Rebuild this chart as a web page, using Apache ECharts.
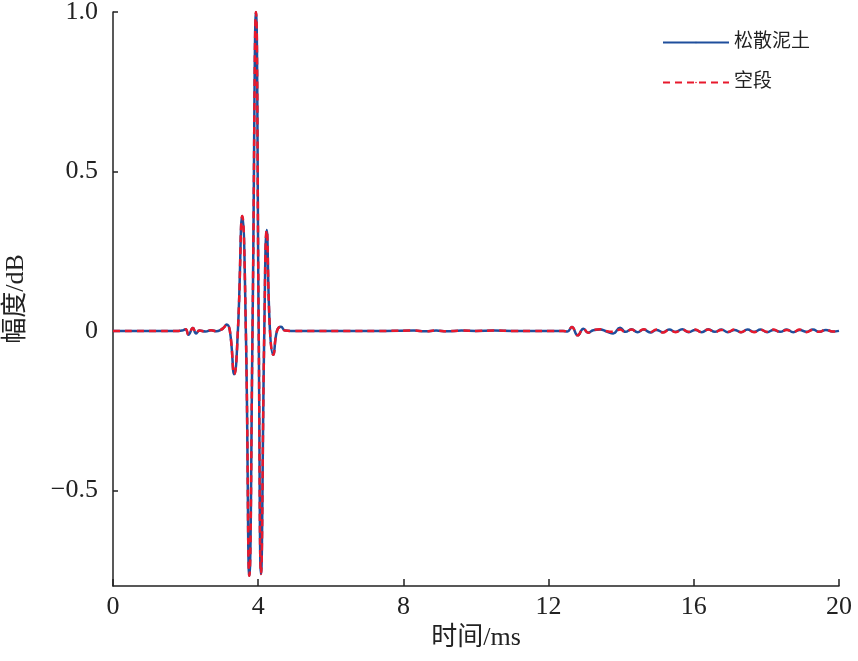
<!DOCTYPE html>
<html>
<head>
<meta charset="utf-8">
<script src="https://cdn.jsdelivr.net/npm/echarts@6/dist/echarts.min.js"></script>
<style>
html,body{margin:0;padding:0;background:#fff;}
#chart{width:858px;height:661px;}
</style>
</head>
<body>
<div id="chart"></div>
<script>
// time axis (ms)
var timeMs = [0, 1.0, 1.8, 1.9, 2.00, 2.08, 2.20, 2.29, 2.38, 2.55, 2.70, 2.85, 2.98, 3.05, 3.13, 3.22, 3.34, 3.44, 3.56, 3.66, 3.755, 3.843, 3.939, 4.014, 4.077, 4.168, 4.234, 4.325, 4.416, 4.518, 4.628, 4.74, 4.9, 5.5, 6.5, 7.5, 8.3, 8.6, 8.9, 9.2, 9.6, 10.0, 10.5, 11.0, 11.5, 12.0, 12.4, 12.52, 12.64, 12.80, 12.96, 13.09, 13.23, 13.42, 13.60, 13.78, 13.97, 14.12, 14.28, 14.45, 14.62, 14.80, 14.97, 15.15, 15.32, 15.50, 15.68, 15.86, 16.04, 16.22, 16.40, 16.58, 16.76, 16.94, 17.12, 17.30, 17.48, 17.66, 17.84, 18.02, 18.20, 18.38, 18.56, 18.74, 18.92, 19.10, 19.28, 19.46, 19.64, 19.82, 20.0];

// 松散泥土 (loose soil)
var looseSoil = [0, 0, 0, 0.001, 0.005, -0.012, 0.009, -0.008, 0.001, -0.002, 0.002, -0.001, 0.004, 0.010, 0.020, 0, -0.136, 0, 0.360, 0, -0.768, 0, 1.000, 0, -0.762, 0, 0.316, 0, -0.075, 0, 0.013, 0.001, 0, 0, 0, 0, 0.001, -0.001, 0.001, -0.001, 0.001, 0, 0.001, 0, 0, 0, 0, -0.002, 0.012, -0.014, 0.007, -0.006, 0.002, 0.004, -0.002, -0.008, 0.010, -0.003, 0.005, -0.004, 0.004, -0.005, 0.003, -0.004, 0.004, -0.003, 0.005, -0.004, 0.003, -0.004, 0.005, -0.003, 0.004, -0.004, 0.003, -0.004, 0.004, -0.003, 0.004, -0.004, 0.003, -0.003, 0.004, -0.004, 0.003, -0.003, 0.004, -0.003, 0.003, -0.002, 0];

// 空段 (empty section)
var emptySection = [0, 0, 0, 0.001, 0.005, -0.012, 0.009, -0.008, 0.001, -0.002, 0.002, -0.001, 0.004, 0.010, 0.020, 0, -0.136, 0, 0.360, 0, -0.768, 0, 1.000, 0, -0.762, 0, 0.316, 0, -0.075, 0, 0.013, 0.001, 0, 0, 0, 0, 0.001, -0.001, 0.001, -0.001, 0.001, 0, 0.001, 0, 0, 0, 0, -0.002, 0.012, -0.014, 0.007, -0.006, 0.003, 0.005, -0.001, -0.003, 0.004, -0.004, 0.004, -0.003, 0.005, -0.004, 0.004, -0.005, 0.003, -0.004, 0.004, -0.003, 0.004, -0.004, 0.004, -0.004, 0.003, -0.003, 0.004, -0.004, 0.003, -0.004, 0.004, -0.003, 0.004, -0.004, 0.003, -0.003, 0.004, -0.004, 0.003, -0.003, 0.004, -0.002, 0];

var xTicks = [0, 4, 8, 12, 16, 20];
var yTicks = [-0.5, 0, 0.5, 1.0];
var yTickLabels = ['\u22120.5', '0', '0.5', '1.0'];

function pairs(xs, ys) {
  var out = [];
  for (var i = 0; i < xs.length; i++) out.push([xs[i], ys[i]]);
  return out;
}

var serif = '"Liberation Serif", "Noto Sans CJK SC", serif';
var chart = echarts.init(document.getElementById('chart'), null, {renderer: 'canvas'});
chart.setOption({
  animation: false,
  backgroundColor: '#ffffff',
  grid: {left: 113, right: 19, top: 12, bottom: 75, containLabel: false, outerBoundsMode: 'none'},
  legend: {
    orient: 'vertical',
    left: 662,
    top: 33,
    itemWidth: 66,
    itemHeight: 2,
    itemGap: 21,
    padding: 0,
    textStyle: {fontFamily: serif, fontSize: 19, color: '#222'},
    data: ['松散泥土', '空段']
  },
  xAxis: {
    type: 'value',
    min: 0,
    max: 20,
    interval: 4,
    name: '时间/ms',
    nameLocation: 'middle',
    nameGap: 38,
    nameTextStyle: {fontFamily: serif, fontSize: 26, color: '#222'},
    axisLine: {show: true, onZero: false, lineStyle: {color: '#222', width: 1.5}},
    axisTick: {show: true, inside: true, length: 7, lineStyle: {color: '#222', width: 1.5}},
    axisLabel: {fontFamily: serif, fontSize: 26, color: '#222', margin: 8},
    splitLine: {show: false}
  },
  yAxis: {
    type: 'value',
    min: -0.8,
    max: 1.0,
    name: '幅度/dB',
    nameLocation: 'middle',
    nameGap: 84,
    nameRotate: 90,
    nameTextStyle: {fontFamily: serif, fontSize: 26, color: '#222'},
    axisLine: {show: true, onZero: false, lineStyle: {color: '#222', width: 1.5}},
    axisTick: {show: true, inside: true, length: 5, customValues: yTicks, lineStyle: {color: '#222', width: 1.5}},
    axisLabel: {
      fontFamily: serif, fontSize: 26, color: '#222', margin: 15,
      customValues: yTicks,
      formatter: function (v) {
        for (var i = 0; i < yTicks.length; i++) {
          if (Math.abs(yTicks[i] - v) < 1e-9) return yTickLabels[i];
        }
        return '';
      }
    },
    splitLine: {show: false}
  },
  series: [
    {
      name: '松散泥土',
      type: 'line',
      data: pairs(timeMs, looseSoil),
      smooth: 0.5,
      symbol: 'none',
      lineStyle: {color: '#1f4e9c', width: 2.5},
      itemStyle: {color: '#1f4e9c'},
      z: 2
    },
    {
      name: '空段',
      type: 'line',
      data: pairs(timeMs, emptySection),
      smooth: 0.5,
      symbol: 'none',
      lineStyle: {color: '#e8192c', width: 2.5, type: [7, 5]},
      itemStyle: {color: '#e8192c'},
      z: 3
    }
  ]
});
</script>
</body>
</html>
